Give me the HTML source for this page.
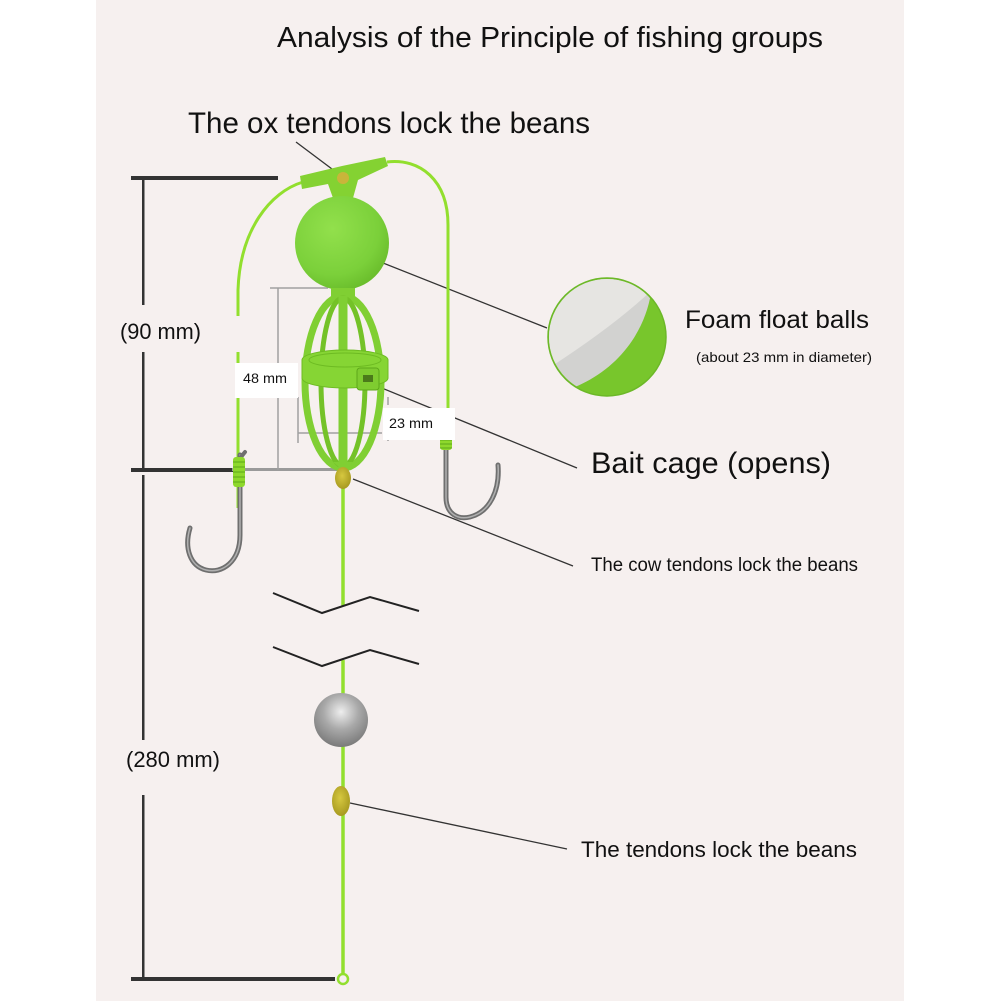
<!DOCTYPE html>
<html><head><meta charset="utf-8"><style>
html,body{margin:0;padding:0;background:#fff;}
svg{display:block;}
text{font-family:"Liberation Sans",sans-serif;fill:#111;}
</style></head><body>
<svg width="1001" height="1001" viewBox="0 0 1001 1001" xmlns="http://www.w3.org/2000/svg">
<defs>
<radialGradient id="ball" cx="40%" cy="35%" r="70%">
<stop offset="0" stop-color="#92e04c"/><stop offset="0.7" stop-color="#7bd03a"/><stop offset="1" stop-color="#68bb2a"/>
</radialGradient>
<radialGradient id="sink" cx="50%" cy="35%" r="65%">
<stop offset="0" stop-color="#eeeeee"/><stop offset="0.5" stop-color="#a9a9a9"/><stop offset="1" stop-color="#7a7a7a"/>
</radialGradient>
<radialGradient id="bead" cx="45%" cy="40%" r="60%">
<stop offset="0" stop-color="#d6c840"/><stop offset="1" stop-color="#a89a20"/>
</radialGradient>
<clipPath id="fc"><circle cx="607" cy="337" r="58"/></clipPath>
</defs>
<rect x="0" y="0" width="1001" height="1001" fill="#ffffff"/>
<rect x="96" y="0" width="808" height="1001" fill="#f6f0ef"/>

<!-- titles -->
<text x="277" y="47" font-size="29" textLength="546" lengthAdjust="spacingAndGlyphs">Analysis of the Principle of fishing groups</text>
<text x="188" y="133" font-size="30" textLength="402" lengthAdjust="spacingAndGlyphs">The ox tendons lock the beans</text>

<!-- dimension bars -->
<rect x="131" y="176" width="147" height="4" fill="#333"/>
<rect x="142" y="178" width="2.5" height="127" fill="#333"/>
<rect x="142" y="352" width="2.5" height="118" fill="#333"/>
<rect x="131" y="468" width="102" height="4" fill="#333"/>
<rect x="142" y="475" width="2.5" height="265" fill="#333"/>
<rect x="142" y="795" width="2.5" height="184" fill="#333"/>
<rect x="131" y="977" width="204" height="4" fill="#333"/>
<text x="120" y="339" font-size="22" textLength="81" lengthAdjust="spacingAndGlyphs">(90 mm)</text>
<text x="126" y="767" font-size="22" textLength="94" lengthAdjust="spacingAndGlyphs">(280 mm)</text>

<!-- gray dimension lines -->
<line x1="232" y1="469.5" x2="337" y2="469.5" stroke="#9a9a9a" stroke-width="3"/>
<line x1="270" y1="288" x2="328" y2="288" stroke="#a0a0a0" stroke-width="1.5"/>
<line x1="278" y1="288" x2="278" y2="470" stroke="#a0a0a0" stroke-width="1.5"/>
<line x1="298" y1="397" x2="298" y2="443" stroke="#a0a0a0" stroke-width="1.5"/>
<line x1="388" y1="397" x2="388" y2="445" stroke="#a0a0a0" stroke-width="1.5" stroke-dasharray="8 4"/>
<line x1="298" y1="433" x2="382" y2="433" stroke="#a0a0a0" stroke-width="1.5"/>

<!-- leader lines -->
<g stroke="#333" stroke-width="1.3" fill="none">
<line x1="296" y1="142" x2="340" y2="175"/>
<line x1="368" y1="257" x2="547" y2="328"/>
<line x1="372" y1="384" x2="577" y2="468"/>
<line x1="353" y1="479" x2="573" y2="566"/>
<line x1="350" y1="803" x2="567" y2="849"/>
</g>

<!-- wires -->
<path d="M303 182 C270 192 240 230 238 290 L238 508" stroke="#92df2e" stroke-width="3" fill="none"/>
<rect x="232" y="316" width="12" height="36" fill="#f6f0ef"/>
<path d="M387 162 C420 158 448 180 448 225 L448 440" stroke="#92df2e" stroke-width="3" fill="none"/>
<line x1="343" y1="470" x2="343" y2="606" stroke="#92df2e" stroke-width="3.5"/>
<line x1="343" y1="660" x2="343" y2="975" stroke="#92df2e" stroke-width="3.5"/>
<circle cx="343" cy="979" r="5" stroke="#92df2e" stroke-width="2.5" fill="#f6f0ef"/>

<!-- hooks -->
<g fill="none" stroke-linecap="round">
<path d="M240 455 L240 535 C240 562 222 574 206 570 C190 566 184 548 190 528" stroke="#6f6f6f" stroke-width="5"/>
<path d="M240 455 L240 535 C240 562 222 574 206 570 C190 566 184 548 190 528" stroke="#b0b0b0" stroke-width="1.5"/>
<path d="M237 462 L245 452" stroke="#6f6f6f" stroke-width="4"/>
<path d="M446 447 L446 497 C446 514 458 520 470 517 C490 512 500 490 498 465" stroke="#6f6f6f" stroke-width="5"/>
<path d="M446 447 L446 497 C446 514 458 520 470 517 C490 512 500 490 498 465" stroke="#b0b0b0" stroke-width="1.5"/>
</g>
<!-- wraps -->
<rect x="233" y="457" width="12" height="30" rx="3" fill="#8ed82c"/>
<g stroke="#5ea81a" stroke-width="1">
<line x1="233" y1="462" x2="245" y2="462"/><line x1="233" y1="467" x2="245" y2="467"/><line x1="233" y1="472" x2="245" y2="472"/><line x1="233" y1="477" x2="245" y2="477"/><line x1="233" y1="482" x2="245" y2="482"/>
</g>
<rect x="440" y="436" width="12" height="14" rx="3" fill="#8ed82c"/>
<g stroke="#5ea81a" stroke-width="1">
<line x1="440" y1="440" x2="452" y2="440"/><line x1="440" y1="444" x2="452" y2="444"/><line x1="440" y1="448" x2="452" y2="448"/>
</g>

<!-- Y connector -->
<polygon points="300,176 342,166 385,157 388,166 358,180 353,198 333,198 328,184 302,189" fill="#84d232"/>
<circle cx="343" cy="178" r="6" fill="#c9b53a"/>

<!-- float ball -->
<circle cx="342" cy="243" r="47" fill="url(#ball)"/>

<!-- cage -->
<g fill="none" stroke="#80cf33">
<rect x="331" y="288" width="24" height="9" fill="#80cf33" stroke="none"/>
<ellipse cx="343" cy="382" rx="38" ry="86" stroke-width="7"/>
<ellipse cx="343" cy="382" rx="22" ry="84" stroke-width="5" stroke="#74c228"/>
<line x1="343" y1="296" x2="343" y2="468" stroke-width="9"/>
</g>
<path d="M302 360 A43 10 0 0 1 388 360 L388 378 A43 10 0 0 1 302 378 Z" fill="#86d534" stroke="#6dbb22" stroke-width="1"/>
<ellipse cx="345" cy="360" rx="36" ry="7" fill="none" stroke="#6dbb22" stroke-width="1"/>
<rect x="357" y="368" width="22" height="22" rx="3" fill="#7fcc30" stroke="#5ea81a" stroke-width="1"/>
<rect x="363" y="375" width="10" height="7" fill="#4b7a1a"/>
<path d="M333 462 L353 462 L345 472 Z" fill="#80cf33"/>
<ellipse cx="343" cy="478" rx="8" ry="11" fill="url(#bead)"/>

<!-- label boxes -->
<rect x="235" y="363" width="63" height="35" fill="#ffffff"/>
<text x="243" y="383" font-size="14" textLength="44" lengthAdjust="spacingAndGlyphs">48 mm</text>
<rect x="383" y="408" width="72" height="32" fill="#ffffff"/>
<text x="389" y="428" font-size="14" textLength="44" lengthAdjust="spacingAndGlyphs">23 mm</text>

<!-- break lines -->
<g stroke="#222" stroke-width="2" fill="none">
<polyline points="273,593 322,613 370,597 419,611"/>
<polyline points="273,647 322,666 370,650 419,664"/>
</g>

<!-- sinker and lower bead -->
<circle cx="341" cy="720" r="27" fill="url(#sink)"/>
<ellipse cx="341" cy="801" rx="9" ry="15" fill="url(#bead)"/>

<!-- foam magnified circle -->
<circle cx="607" cy="337" r="59" fill="#78c62c" stroke="#6cb828" stroke-width="1.5"/>
<g clip-path="url(#fc)">
<path d="M651 293 C645 330 620 370 570 389 L540 405 L540 270 L665 270 Z" fill="#d2d2d0"/>
<path d="M652 290 Q615 325 552 366 L540 370 L540 270 L665 270 Z" fill="#e6e5e2"/>
</g>

<!-- right labels -->
<text x="685" y="328" font-size="25" textLength="184" lengthAdjust="spacingAndGlyphs">Foam float balls</text>
<text x="696" y="362" font-size="14" textLength="176" lengthAdjust="spacingAndGlyphs">(about 23 mm in diameter)</text>
<text x="591" y="473" font-size="30" textLength="240" lengthAdjust="spacingAndGlyphs">Bait cage (opens)</text>
<text x="591" y="571" font-size="19" textLength="267" lengthAdjust="spacingAndGlyphs">The cow tendons lock the beans</text>
<text x="581" y="857" font-size="22" textLength="276" lengthAdjust="spacingAndGlyphs">The tendons lock the beans</text>
</svg>
</body></html>
